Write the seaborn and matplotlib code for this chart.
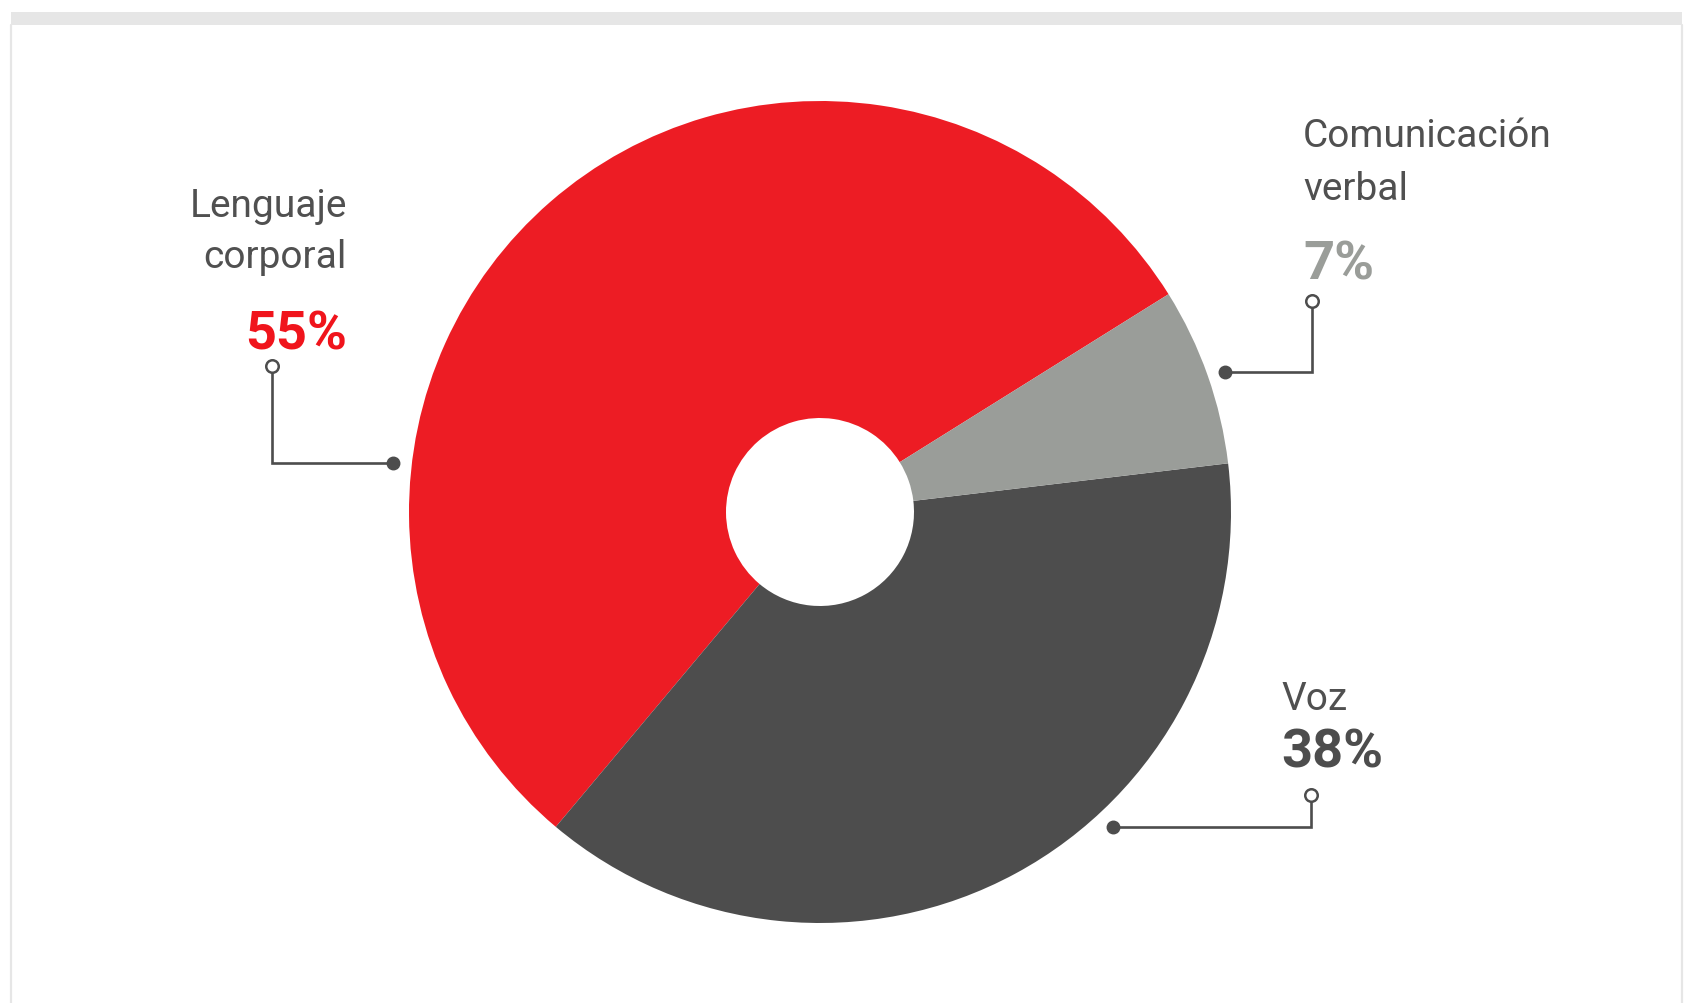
import matplotlib
matplotlib.use("Agg")
import matplotlib.pyplot as plt
import seaborn as sns
from matplotlib.patches import Rectangle

# Data
categories = ["Lenguaje corporal", "Voz", "Comunicación verbal"]
values = [55, 38, 7]
label_lines = [["Lenguaje", "corporal"], ["Voz"], ["Comunicación", "verbal"]]
pct_labels = ["55%", "38%", "7%"]

slice_colors = ["#ED1C24", "#4D4D4D", "#9A9D99"]
pct_colors = ["#F0141C", "#4D4D4D", "#9A9D99"]
text_color = "#505050"

sns.set_theme(style="white")
plt.rcParams["font.family"] = ["Roboto", "DejaVu Sans"]

W, H = 1687, 1004
fig = plt.figure(figsize=(W / 100, H / 100), dpi=100)
ax = fig.add_axes([0, 0, 1, 1])

def Y(y):
    return H - y

cx, cy, R, r_hole = 820, 513, 411, 94
ax.pie(values, colors=slice_colors, startangle=32, counterclock=True,
       center=(cx, Y(cy)), radius=R,
       wedgeprops=dict(width=R - r_hole, linewidth=0, edgecolor="none"))

ax.set_xlim(0, W)
ax.set_ylim(0, H)
ax.set_aspect("equal")
ax.axis("off")

# frame
ax.add_patch(Rectangle((11, Y(26)), 1671, 13, color="#E6E6E6", lw=0, zorder=0))
ax.plot([11, 11], [Y(26), 0], color="#E6E6E6", lw=1.6, zorder=0)
ax.plot([1682, 1682], [Y(26), 0], color="#E6E6E6", lw=1.6, zorder=0)

lab_fs = 28
pct_fs = 39
lc = "#4D4D4D"

def connector(ox, oy, cy2, dx):
    ax.plot([ox, ox, dx], [Y(oy), Y(cy2), Y(cy2)], color=lc, lw=1.9, zorder=3,
            solid_joinstyle="miter")
    ax.plot([ox], [Y(oy)], marker="o", ms=9, mfc="white", mec=lc, mew=1.8, zorder=4)
    ax.plot([dx], [Y(cy2)], marker="o", ms=9, mfc=lc, mec=lc, zorder=4)

# Lenguaje corporal (right aligned)
ax.text(347, Y(217), label_lines[0][0], ha="right", va="baseline",
        fontsize=lab_fs, color=text_color)
ax.text(347, Y(268), label_lines[0][1], ha="right", va="baseline",
        fontsize=lab_fs, color=text_color)
ax.text(347, Y(350), pct_labels[0], ha="right", va="baseline",
        fontsize=pct_fs, fontweight="bold", color=pct_colors[0])
connector(272, 367, 464, 393)

# Comunicación verbal
ax.text(1303, Y(147), label_lines[2][0], ha="left", va="baseline",
        fontsize=lab_fs, color=text_color)
ax.text(1303, Y(200), label_lines[2][1], ha="left", va="baseline",
        fontsize=lab_fs, color=text_color)
ax.text(1303, Y(280), pct_labels[2], ha="left", va="baseline",
        fontsize=pct_fs, fontweight="bold", color=pct_colors[2])
connector(1312, 302, 373, 1225)

# Voz
ax.text(1281, Y(710), label_lines[1][0], ha="left", va="baseline",
        fontsize=lab_fs, color=text_color)
ax.text(1281, Y(768), pct_labels[1], ha="left", va="baseline",
        fontsize=pct_fs, fontweight="bold", color=pct_colors[1])
connector(1311, 796, 828, 1113)

fig.savefig("out.png", dpi=100, facecolor="white")
